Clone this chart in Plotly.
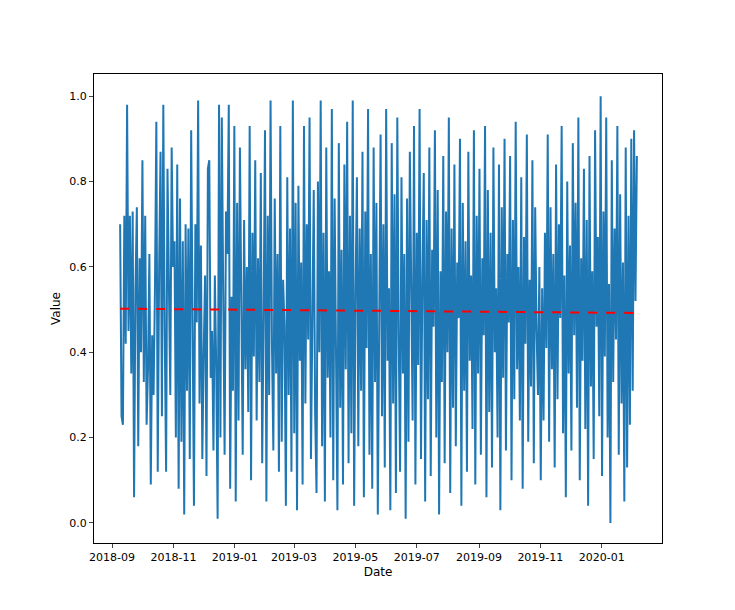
import plotly.graph_objects as go
import pandas as pd

start_date = "2018-09-09"
end_date = "2020-02-05"
values = [
0.70,0.25,0.23,0.72,0.42,0.98,0.45,0.72,0.35,0.73,0.06,0.55,0.74,0.18,0.62,0.40,0.85,0.33,0.72,0.23,
0.36,0.63,0.09,0.44,0.30,0.55,0.94,0.12,0.60,0.87,0.25,0.98,0.45,0.12,0.83,0.52,0.30,0.88,0.60,0.66,
0.20,0.84,0.08,0.76,0.19,0.66,0.02,0.70,0.31,0.69,0.15,0.92,0.36,0.04,0.70,0.47,0.99,0.28,0.65,0.15,
0.40,0.58,0.11,0.83,0.85,0.34,0.45,0.17,0.58,0.36,0.01,0.98,0.20,0.95,0.54,0.16,0.73,0.63,0.98,0.08,
0.53,0.31,0.93,0.05,0.75,0.24,0.88,0.45,0.16,0.71,0.36,0.60,0.26,0.93,0.10,0.68,0.39,0.85,0.24,0.62,
0.33,0.82,0.14,0.48,0.92,0.05,0.72,0.30,0.99,0.42,0.17,0.76,0.35,0.63,0.12,0.93,0.19,0.57,0.46,0.04,
0.81,0.30,0.69,0.12,0.99,0.21,0.75,0.03,0.79,0.38,0.61,0.09,0.93,0.28,0.70,0.43,0.95,0.15,0.48,0.78,
0.26,0.07,0.80,0.40,0.99,0.18,0.68,0.05,0.88,0.34,0.59,0.20,0.97,0.10,0.76,0.46,0.03,0.89,0.27,0.64,
0.09,0.84,0.36,0.94,0.14,0.72,0.21,0.99,0.04,0.54,0.81,0.18,0.69,0.31,0.87,0.06,0.73,0.41,0.97,0.16,
0.63,0.08,0.88,0.33,0.75,0.02,0.60,0.91,0.25,0.70,0.13,0.97,0.38,0.55,0.03,0.89,0.28,0.77,0.07,0.95,
0.44,0.12,0.81,0.35,0.63,0.01,0.76,0.19,0.87,0.50,0.24,0.93,0.09,0.68,0.37,0.97,0.15,0.57,0.82,0.05,
0.71,0.29,0.88,0.11,0.64,0.46,0.92,0.20,0.78,0.02,0.59,0.33,0.86,0.14,0.73,0.40,0.95,0.07,0.69,0.27,
0.84,0.18,0.61,0.48,0.90,0.04,0.75,0.31,0.66,0.12,0.87,0.38,0.58,0.22,0.92,0.09,0.72,0.35,0.83,0.16,
0.62,0.44,0.93,0.06,0.78,0.26,0.68,0.13,0.88,0.40,0.55,0.20,0.84,0.03,0.74,0.34,0.90,0.17,0.63,0.47,
0.86,0.10,0.71,0.29,0.94,0.36,0.60,0.24,0.81,0.08,0.67,0.42,0.91,0.19,0.57,0.32,0.85,0.14,0.74,0.45,
0.30,0.60,0.10,0.55,0.24,0.68,0.41,0.91,0.19,0.74,0.36,0.63,0.13,0.84,0.29,0.70,0.48,0.93,0.21,0.58,
0.06,0.80,0.35,0.65,0.17,0.89,0.44,0.75,0.27,0.95,0.10,0.62,0.38,0.83,0.22,0.71,0.04,0.86,0.32,0.59,
0.15,0.92,0.46,0.67,0.25,1.00,0.11,0.73,0.39,0.95,0.20,0.56,0.00,0.85,0.33,0.69,0.43,0.93,0.16,0.77,
0.28,0.61,0.05,0.88,0.13,0.72,0.23,0.90,0.31,0.92,0.52,0.86,
]
trend_start, trend_end = 0.502, 0.492

dates = pd.date_range(start_date, end_date, periods=len(values))

fig = go.Figure()
fig.add_trace(go.Scatter(x=dates, y=values, mode="lines",
                         line=dict(color="#1f77b4", width=2)))
fig.add_trace(go.Scatter(x=[dates[0], dates[-1]], y=[trend_start, trend_end], mode="lines",
                         line=dict(color="red", width=2, dash="dash")))

ticks = pd.date_range("2018-09-01", "2020-01-01", freq="2MS")
fig.update_layout(
    width=735, height=610, showlegend=False,
    paper_bgcolor="white", plot_bgcolor="white",
    margin=dict(l=86, r=81, t=66, b=75),
    font=dict(family="DejaVu Sans", size=11, color="black"),
    xaxis=dict(title=dict(text="Date", standoff=4, font=dict(size=12)), range=["2018-08-14", "2020-03-01"],
               tickvals=ticks, ticktext=[t.strftime("%Y-%m") for t in ticks],
               showgrid=False, zeroline=False, showline=True, mirror=True,
               linecolor="black", ticks="outside", ticklen=4),
    yaxis=dict(title=dict(text="Value", standoff=6, font=dict(size=12)), range=[-0.047, 1.052],
               tickvals=[0, 0.2, 0.4, 0.6, 0.8, 1.0], tickformat=".1f",
               showgrid=False, zeroline=False, showline=True, mirror=True,
               linecolor="black", ticks="outside", ticklen=4),
)
fig.write_html("out.html")
